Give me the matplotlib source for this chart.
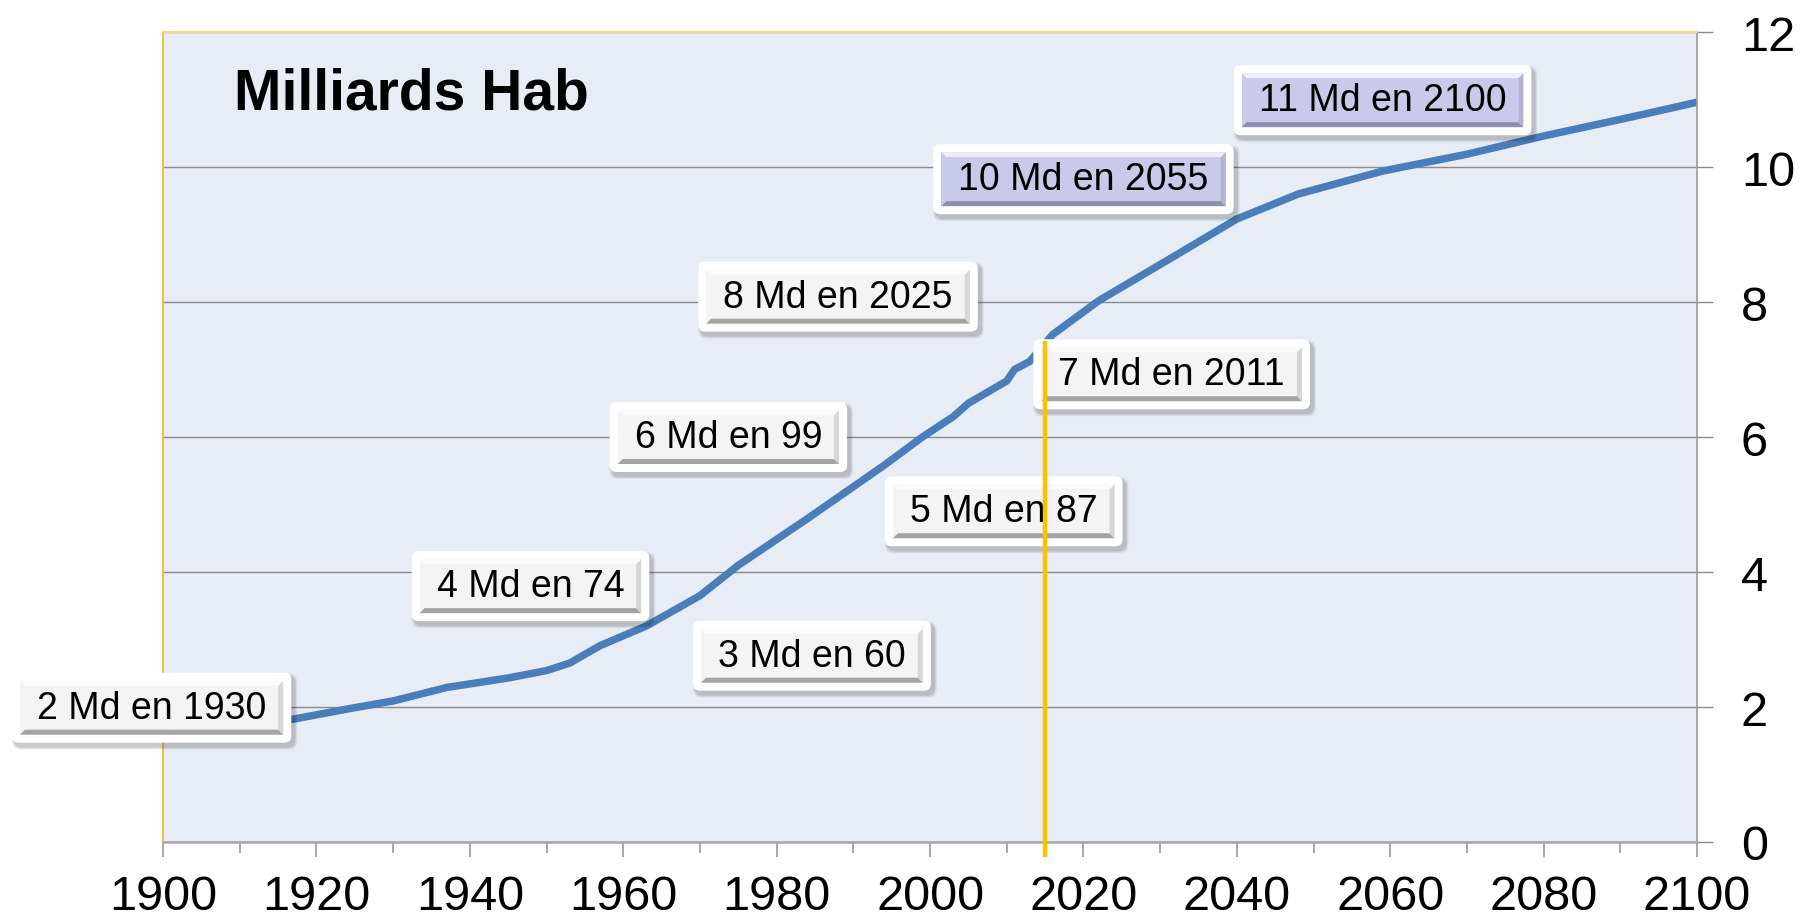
import matplotlib
matplotlib.use("Agg")
import matplotlib.pyplot as plt
from matplotlib.patches import FancyBboxPatch, Polygon
from matplotlib.transforms import IdentityTransform
from matplotlib.ticker import MultipleLocator

plt.rcParams['font.family'] = ['Liberation Sans', 'DejaVu Sans']

# world population, billions
years = [1900, 1910, 1917, 1924, 1930, 1937, 1945, 1950, 1953, 1957, 1963, 1970, 1975,
         1984, 1994, 1999, 2003, 2005, 2010, 2011, 2013, 2016, 2022, 2032, 2040, 2048,
         2059, 2070, 2080, 2091, 2100]
population = [1.65, 1.74, 1.82, 1.97, 2.09, 2.29, 2.43, 2.54, 2.65, 2.91, 3.20, 3.65, 4.10,
              4.79, 5.58, 6.00, 6.30, 6.50, 6.83, 7.00, 7.12, 7.52, 8.02, 8.69, 9.23, 9.60,
              9.94, 10.19, 10.46, 10.73, 10.96]

label_texts = ["2 Md en 1930", "4 Md en 74", "3 Md en 60", "6 Md en 99", "5 Md en 87",
               "8 Md en 2025", "7 Md en 2011", "10 Md en 2055", "11 Md en 2100"]
label_x = [1898.5, 1947.9, 1984.6, 1973.7, 2009.6, 1988.0, 2031.5, 2020.0, 2059.0]
label_y = [1.99, 3.79, 2.76, 6.00, 4.90, 8.08, 6.93, 9.82, 10.99]
label_projection = [False, False, False, False, False, False, False, True, True]

today_year = 2015
today_top = 7.42

BG = "#E8ECF4"
BLUE = "#4A7EBB"
GOLD = "#FFC000"
GRID = "#8C8C8C"


def add_box(ax, txt, renderer, fill, bevel, side):
    bb = txt.get_window_extent(renderer)
    x0, y0, x1, y1 = bb.x0 - 17, bb.y0 - 9, bb.x1 + 17, bb.y1 + 9
    ident = IdentityTransform()
    m = 8
    # soft shadow
    for k, a in [(6, 0.05), (4, 0.07), (2, 0.09)]:
        ax.add_patch(FancyBboxPatch((x0 - m + 3 - k / 2, y0 - m - 4 - k / 2),
                                    x1 - x0 + 2 * m + k, y1 - y0 + 2 * m + k,
                                    boxstyle="round,pad=0,rounding_size=8", fc="black",
                                    ec="none", alpha=a, transform=ident, clip_on=False, zorder=3))
    ax.add_patch(FancyBboxPatch((x0 - m, y0 - m), x1 - x0 + 2 * m, y1 - y0 + 2 * m,
                                boxstyle="round,pad=0,rounding_size=7", fc="white", ec="none",
                                transform=ident, clip_on=False, zorder=3.1))
    ax.add_patch(FancyBboxPatch((x0, y0), x1 - x0, y1 - y0, boxstyle="square,pad=0",
                                fc=fill, ec="none", transform=ident, clip_on=False, zorder=3.2))
    b = 5
    ax.add_patch(Polygon([(x0, y0), (x1, y0), (x1 - b, y0 + b), (x0 + b, y0 + b)], closed=True,
                         fc=bevel, ec="none", transform=ident, clip_on=False, zorder=3.3))
    ax.add_patch(Polygon([(x1, y0), (x1, y1), (x1 - b, y1 - b), (x1 - b, y0 + b)], closed=True,
                         fc=side, ec="none", transform=ident, clip_on=False, zorder=3.3))
    ax.add_patch(Polygon([(x0, y1), (x1, y1), (x1 - b, y1 - b), (x0 + b, y1 - b)], closed=True,
                         fc="white", ec="none", alpha=0.7, transform=ident, clip_on=False, zorder=3.3))


fig = plt.figure(figsize=(18.1, 9.2), dpi=100)
ax = fig.add_axes([0.0901, 0.0837, 0.8475, 0.8804])
ax.set_facecolor(BG)

ax.plot(years, population, color=BLUE, lw=5.4, solid_joinstyle="round",
        solid_capstyle="butt", zorder=2)

ax.set_xlim(1900, 2100)
ax.set_ylim(0, 12)
ax.xaxis.set_major_locator(MultipleLocator(20))
ax.xaxis.set_minor_locator(MultipleLocator(10))
ax.yaxis.set_major_locator(MultipleLocator(2))
ax.yaxis.tick_right()
ax.grid(axis="y", color=GRID, lw=1.0, zorder=1)
ax.set_axisbelow(True)

ax.tick_params(axis="x", which="major", direction="out", length=11, width=1.2,
               color="#9A9A9A", labelsize=35, pad=12)
ax.tick_params(axis="x", which="minor", direction="out", length=8, width=1.2, color="#9A9A9A")
ax.tick_params(axis="y", which="major", direction="out", length=11.5, width=1.0,
               color=GRID, labelsize=35, pad=20)

ax.spines["left"].set_color("#F2C23A")
ax.spines["left"].set_linewidth(1.5)
ax.spines["top"].set_color("#FAD47A")
ax.spines["top"].set_linewidth(1.5)
ax.spines["right"].set_color("#9A9A9A")
ax.spines["right"].set_linewidth(1.2)
ax.spines["bottom"].set_color("#A6A6A6")
ax.spines["bottom"].set_linewidth(1.8)

ax.text(0.046, 0.905, "Milliards Hab", transform=ax.transAxes, fontsize=41,
        fontweight="bold", ha="left", va="baseline", zorder=4)

# current year marker
ax.plot([today_year, today_year], [-0.22, today_top], color=GOLD, lw=3.2,
        solid_capstyle="butt", clip_on=False, zorder=5)

texts = []
for s, x, y in zip(label_texts, label_x, label_y):
    texts.append(ax.text(x, y, s, fontsize=27, ha="center", va="center",
                         color="black", clip_on=False, zorder=4))

fig.canvas.draw()
renderer = fig.canvas.get_renderer()
for t, proj in zip(texts, label_projection):
    if proj:
        add_box(ax, t, renderer, "#C9C9E9", "#8E8EAE", "#B4B4D2")
    else:
        add_box(ax, t, renderer, "#F4F4F4", "#A4A4A4", "#D6D6D6")

fig.savefig("out.png", dpi=100)
plt.close(fig)
